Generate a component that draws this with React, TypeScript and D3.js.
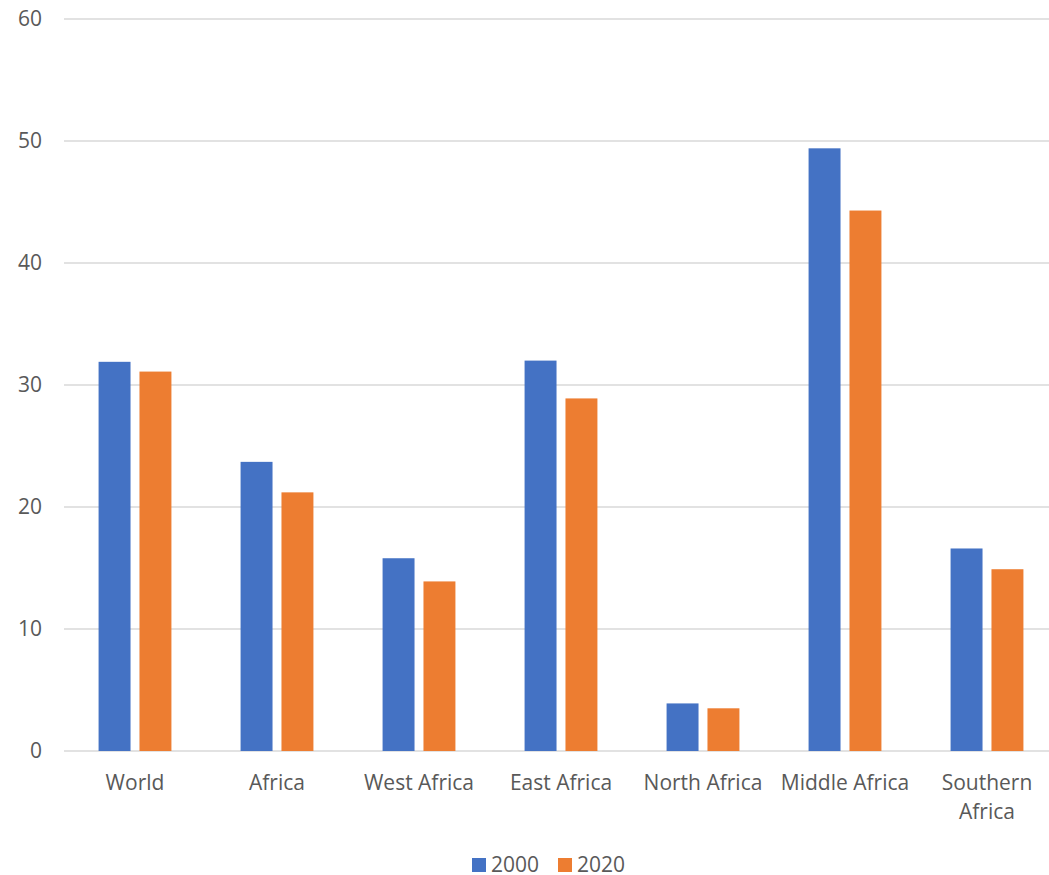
import React from "react";
import * as d3 from "d3";

const categories = ["World", "Africa", "West Africa", "East Africa", "North Africa", "Middle Africa", "Southern Africa"];
const series2000 = [31.9, 23.7, 15.8, 32.0, 3.9, 49.4, 16.6];
const series2020 = [31.1, 21.2, 13.9, 28.9, 3.5, 44.3, 14.9];
const seriesNames = ["2000", "2020"];
const yTicks = [0, 10, 20, 30, 40, 50, 60];

const colors = ["#4472C4", "#ED7D31"];
const W = 1049, H = 875;
const left = 64, right = 1058, top = 19, bottom = 751;
const font = "'Open Sans', sans-serif";
const fs = 21;

export default function App() {
  const x = d3.scaleBand<string>().domain(categories).range([left, right]).paddingInner(0).paddingOuter(0);
  const y = d3.scaleLinear().domain([0, 60]).range([bottom, top]);
  const step = x.step();
  const barW = step * 0.225;
  const gap = step * 0.063;
  const data = [series2000, series2020];

  const wrap = (s: string) => (s === "Southern Africa" ? ["Southern", "Africa"] : [s]);

  return (
    <svg width={W} height={H} style={{ position: "absolute", left: 0, top: 0 }}>
      <rect width={W} height={H} fill="#fff" />
      {yTicks.map((t) => (
        <g key={t}>
          <line x1={left} x2={right} y1={y(t)} y2={y(t)} stroke="#D9D9D9" strokeWidth={1.5} />
          <text x={42} y={y(t)} dy="0.35em" textAnchor="end" fontFamily={font} fontSize={fs} fill="#595959">{t}</text>
        </g>
      ))}
      {data.map((vals, si) =>
        vals.map((v, i) => {
          const c = (x(categories[i]) as number) + step / 2;
          const bx = si === 0 ? c - gap / 2 - barW : c + gap / 2;
          return <rect key={`${si}-${i}`} x={bx} y={y(v)} width={barW} height={y(0) - y(v)} fill={colors[si]} />;
        })
      )}
      {categories.map((cat) => {
        const c = (x(cat) as number) + step / 2;
        return (
          <text key={cat} x={c} y={790} textAnchor="middle" fontFamily={font} fontSize={fs} fill="#595959">
            {wrap(cat).map((l, k) => (
              <tspan key={k} x={c} dy={k === 0 ? 0 : 28.5}>{l}</tspan>
            ))}
          </text>
        );
      })}
      {seriesNames.map((n, i) => {
        const lx = 472 + i * 86;
        return (
          <g key={n}>
            <rect x={lx} y={858} width={14} height={14} fill={colors[i]} />
            <text x={lx + 19} y={865} dy="0.35em" fontFamily={font} fontSize={fs} fill="#595959">{n}</text>
          </g>
        );
      })}
    </svg>
  );
}
